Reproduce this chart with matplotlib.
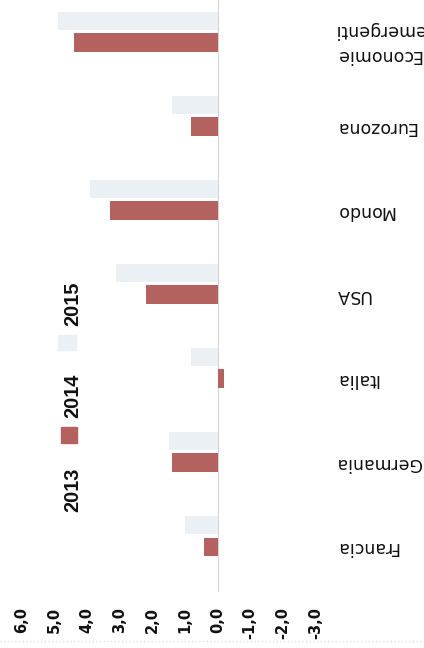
import numpy as np
from matplotlib import pyplot as plt
from matplotlib.patches import Rectangle
from matplotlib.lines import Line2D

# the scanned page is turned on its side: value axis runs along the bottom
categories = ['Francia', 'Germania', 'Italia', 'USA', 'Mondo', 'Eurozona', 'Economie\nemergenti']
values_2014 = [0.4, 1.4, -0.2, 2.2, 3.3, 0.8, 4.4]
values_2015 = [1.0, 1.5, 0.8, 3.1, 3.9, 1.4, 4.9]
years = ['2013', '2014', '2015']
tick_values = [6, 5, 4, 3, 2, 1, 0, -1, -2, -3]
tick_labels = ['6,0', '5,0', '4,0', '3,0', '2,0', '1,0', '0,0', '-1,0', '-2,0', '-3,0']

red = '#b3625f'
faint = '#eaf0f4'

W, H = 424, 648
fig = plt.figure(figsize=(W / 100, H / 100), dpi=100)
ax = fig.add_axes([0, 1 - 592 / H, 1, 592 / H])

y = np.arange(len(categories))
ax.barh(y, values_2014, height=0.225, color=red)
ax.barh(y + 0.26, values_2015, height=0.215, color=faint)
ax.axvline(0, color='#d4d4d4', lw=0.8, zorder=0)

ax.set_xlim(6.672, -6.334)
ax.set_ylim(-0.535, 6.505)

ax.set_xticks(tick_values)
ax.set_xticklabels(tick_labels, rotation=90, fontweight='bold', fontsize=10.5, color='#111111')
ax.tick_params(axis='x', length=0, pad=10.8)
ax.set_yticks([])
for s in ax.spines.values():
    s.set_visible(False)

# category names, upside down on the right
for yi, name in zip(y, categories):
    ax.text(-3.604, yi, name, rotation=180, ha='left', va='center',
            multialignment='right', linespacing=1.55, fontsize=12.5, color='#111111')

# legend, turned like the rest of the page
leg_font = dict(rotation=90, ha='center', va='center', fontfamily='Liberation Sans',
                fontweight='bold', fontsize=14.4, color='#111111')
for label, ypx in zip(years, [490, 396, 304]):
    fig.text(72.5 / W, 1 - ypx / H, label, **leg_font)
fig.add_artist(Rectangle((61 / W, 1 - 443 / H), 16 / W, 16 / H,
                         transform=fig.transFigure, color=red))
fig.add_artist(Rectangle((58 / W, 1 - 350 / H), 18 / W, 15 / H,
                         transform=fig.transFigure, color=faint))

fig.add_artist(Line2D([0, 1], [1 - 641 / H] * 2, transform=fig.transFigure,
                      color='#e2e2e2', lw=1, ls=':'))

fig.savefig('out.png', dpi=100)
